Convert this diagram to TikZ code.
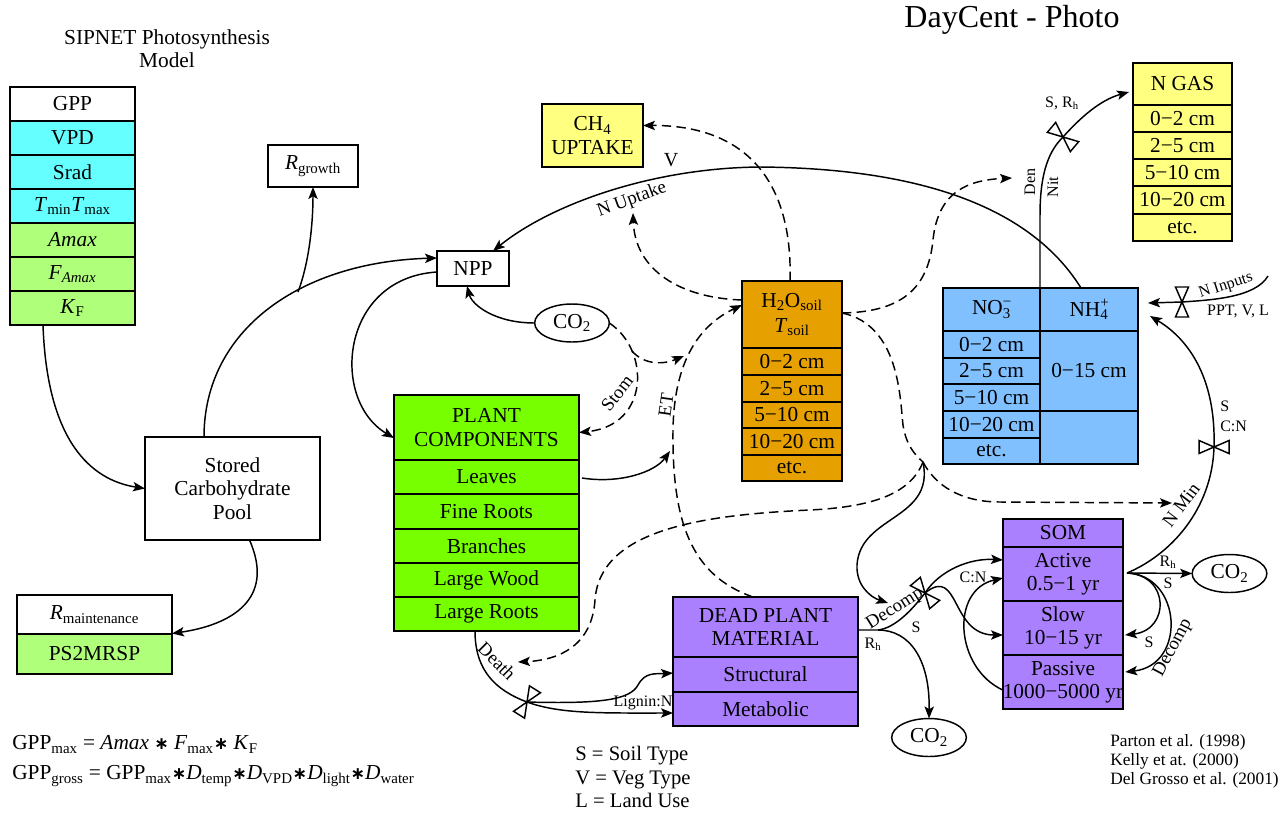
\documentclass[tikz,border=0pt]{standalone}
\usepackage{fontspec}
\setmainfont{Liberation Serif}
\newfontfamily\dejavu{DejaVu Sans}
\usetikzlibrary{arrows.meta,calc,shapes.geometric}
\definecolor{cyanc}{RGB}{102,255,255}
\definecolor{lgrn}{RGB}{176,255,122}
\definecolor{bgrn}{RGB}{119,255,0}
\definecolor{orng}{RGB}{230,160,0}
\definecolor{blu}{RGB}{128,192,255}
\definecolor{yel}{RGB}{255,255,128}
\definecolor{pur}{RGB}{170,128,255}
\tikzset{
 cellbox/.style={draw,line width=1.2pt,rectangle,inner sep=0pt,outer sep=0pt,align=center,font=\fontsize{16}{17.5}\selectfont},
 ell/.style={draw,ellipse,line width=1.1pt,inner sep=0pt,outer sep=0pt,minimum width=56pt,minimum height=28.5pt,font=\fontsize{16}{17.5}\selectfont},
 flow/.style={line width=1.1pt,-{Stealth[length=9pt,width=7pt,inset=2pt]}},
 plain/.style={line width=1.1pt},
 dflow/.style={flow,dash pattern=on 7pt off 4pt},
 dplain/.style={plain,dash pattern=on 7pt off 4pt},
 lab/.style={inner sep=0pt,font=\fontsize{14}{15}\selectfont},
 slab/.style={inner sep=0pt,font=\fontsize{12}{13}\selectfont},
 valveline/.style={line width=1.1pt},
}
\newcommand\cel[7]{\node[cellbox,fill=#6,minimum width={(#4-#2)*0.75pt},minimum height={(#5-#3)*0.75pt}] (#1) at ({(#2+#4)/2},{(#3+#5)/2}) {#7};}
\newcommand\valvedraw[3]{\begin{scope}[shift={(#1,#2)},rotate=#3]\draw[valveline] (0,0)--(15,-6.5)--(15,6.5)--cycle (0,0)--(-15,-6.5)--(-15,6.5)--cycle;\end{scope}}
\newcommand\mul{{\dejavu\bfseries\fontsize{13}{13}\selectfont ∗}}
\begin{document}
\begin{tikzpicture}[x=0.75pt,y=-0.75pt]
\useasboundingbox (0,0) rectangle (1284,814);

% titles
\node[font=\fontsize{24}{26}\selectfont] (title) at (1012,20) {DayCent - Photo};
\node[font=\fontsize{16}{17}\selectfont,align=center] (sipnet) at (167,49) {SIPNET Photosynthesis\\Model};

% SIPNET column
\cel{gpp}{10}{87}{135}{121}{white}{GPP}
\cel{vpd}{10}{121}{135}{155}{cyanc}{VPD}
\cel{srad}{10}{155}{135}{189}{cyanc}{Srad}
\cel{tmm}{10}{189}{135}{223}{cyanc}{\textit{T}\textsubscript{min}\textit{T}\textsubscript{max}}
\cel{amax}{10}{223}{135}{257}{lgrn}{\textit{Amax}}
\cel{famax}{10}{257}{135}{291}{lgrn}{\textit{F}\textsubscript{\textit{Amax}}}
\cel{kf}{10}{291}{135}{325}{lgrn}{\textit{K}\textsubscript{F}}

\cel{rgrowth}{268}{145}{358}{187}{white}{\textit{R}\textsubscript{growth}}
\cel{npp}{437}{251}{509}{286}{white}{NPP}
\node[ell] (co2a) at (572,323) {CO\textsubscript{2}};
\cel{stored}{145}{437}{320}{540}{white}{Stored\\Carbohydrate\\Pool}
\cel{rmaint}{17}{595}{172}{634}{white}{\textit{R}\textsubscript{maintenance}}
\cel{ps2}{17}{634}{172}{674}{lgrn}{PS2MRSP}

% plant components
\cel{pc}{394}{395}{579}{460}{bgrn}{PLANT\\COMPONENTS}
\cel{leaves}{394}{460}{579}{494}{bgrn}{Leaves}
\cel{fine}{394}{494}{579}{529}{bgrn}{Fine Roots}
\cel{branches}{394}{529}{579}{563}{bgrn}{Branches}
\cel{lwood}{394}{563}{579}{597}{bgrn}{Large Wood}
\cel{lroots}{394}{597}{579}{631}{bgrn}{Large Roots}

% dead plant material
\cel{dpm}{673}{597}{858}{657}{pur}{DEAD PLANT\\MATERIAL}
\cel{struct}{673}{657}{858}{692}{pur}{Structural}
\cel{metab}{673}{692}{858}{726}{pur}{Metabolic}

% CH4
\cel{ch4}{542}{104}{643}{167}{yel}{CH\textsubscript{4}\\UPTAKE}

% H2O soil
\cel{h2o}{742}{281}{842}{348}{orng}{H\textsubscript{2}O\textsubscript{soil}\\[1pt]\textit{T}\textsubscript{soil}}
\cel{h2oa}{742}{348}{842}{375}{orng}{0−2 cm}
\cel{h2ob}{742}{375}{842}{402}{orng}{2−5 cm}
\cel{h2oc}{742}{402}{842}{428}{orng}{5−10 cm}
\cel{h2od}{742}{428}{842}{455}{orng}{10−20 cm}
\cel{h2oe}{742}{455}{842}{481}{orng}{etc.}

% NO3 / NH4
\cel{no3}{943}{288}{1040}{331}{blu}{NO\rlap{\textsuperscript{−}}\textsubscript{3}}
\cel{no3a}{943}{331}{1040}{358}{blu}{0−2 cm}
\cel{no3b}{943}{358}{1040}{384}{blu}{2−5 cm}
\cel{no3c}{943}{384}{1040}{411}{blu}{5−10 cm}
\cel{no3d}{943}{411}{1040}{438}{blu}{10−20 cm}
\cel{no3e}{943}{438}{1040}{464}{blu}{etc.}
\cel{nh4}{1040}{288}{1138}{331}{blu}{NH\rlap{\textsuperscript{+}}\textsubscript{4}}
\cel{nh4b}{1040}{331}{1138}{411}{blu}{0−15 cm}
\cel{nh4c}{1040}{411}{1138}{464}{blu}{}

% N GAS
\cel{ngas}{1133}{63}{1232}{105}{yel}{N GAS}
\cel{ngasa}{1133}{105}{1232}{132}{yel}{0−2 cm}
\cel{ngasb}{1133}{132}{1232}{159}{yel}{2−5 cm}
\cel{ngasc}{1133}{159}{1232}{186}{yel}{5−10 cm}
\cel{ngasd}{1133}{186}{1232}{214}{yel}{10−20 cm}
\cel{ngase}{1133}{214}{1232}{241}{yel}{etc.}

% SOM
\cel{som}{1003}{519}{1123}{547}{pur}{SOM}
\cel{active}{1003}{547}{1123}{601}{pur}{Active\\0.5−1 yr}
\cel{slow}{1003}{601}{1123}{655}{pur}{Slow\\10−15 yr}
\cel{passive}{1003}{655}{1123}{709}{pur}{Passive\\1000−5000 yr}

\node[ell] (co2r) at (1229.5,573.5) {CO\textsubscript{2}};
\node[ell] (co2b) at (929,737.5) {CO\textsubscript{2}};

% texts
\node[font=\fontsize{16}{22.5}\selectfont,align=left,anchor=west,inner sep=0pt] (eqs) at (12,761)
 {GPP\textsubscript{max} = \textit{Amax} \mul\ \textit{F}\textsubscript{max}\mul\ \textit{K}\textsubscript{F}\\
  GPP\textsubscript{gross} = GPP\textsubscript{max}\mul\textit{D}\textsubscript{temp}\mul\textit{D}\textsubscript{VPD}\mul\textit{D}\textsubscript{light}\mul\textit{D}\textsubscript{water}};
\node[font=\fontsize{15.5}{17.6}\selectfont,align=left,anchor=west,inner sep=0pt] (legend) at (575,777) {S = Soil Type\\V = Veg Type\\L = Land Use};
\node[font=\fontsize{13}{14.3}\selectfont,align=left,anchor=west,inner sep=0pt] (refs) at (1110,761) {Parton et al. (1998)\\Kelly et at. (2000)\\Del Grosso et al. (2001)};

% coordinates
\coordinate (br) at (298,292);
\coordinate (J) at (923,462);
\coordinate (co2fork) at (632,351);
\coordinate (co2tip) at (684,356);
\coordinate (etTip) at (670,451);
\coordinate (nupTip) at (633,213);
\coordinate (nitTip) at (1012,178);
\coordinate (nminTip) at (1172,503);
\coordinate (deathTip) at (518,662);
\coordinate (decTip) at (888,603);
\coordinate (vng) at (1063,137);
\coordinate (vni) at (1182,302);
\coordinate (nin) at (1268,276);
\coordinate (vnm) at (1214,447);
\coordinate (vdc) at (925,593);
\coordinate (rhj) at (878,630);
\coordinate (vd) at (527,702);

% SIPNET flows
\draw[flow] ($(kf.south)+(-29.5,0)$) .. controls (47,440) and (90,480) .. (stored.west);
\draw[flow] ($(stored.north)+(-28.5,0)$) .. controls (204,330) and (300,262) .. ($(npp.west)+(0,-10.5)$);
\draw[flow] (br) .. controls (310,260) and (313,220) .. (rgrowth.south);
\draw[flow] ($(npp.west)+(0,3.5)$) .. controls (340,278) and (330,400) .. ($(pc.west)+(0,10.5)$);
\draw[flow] (co2a.west) .. controls (495,323) and (472,305) .. ($(npp.south)+(-6,0)$);
\draw[flow] ($(stored.south)+(17,0)$) .. controls (276,600) and (230,625) .. ($(rmaint.east)+(0,19)$);

% N uptake
\draw[flow] ($(nh4.north)+(-8,0)$) .. controls (1020,190) and (880,168) .. (760,167) .. controls (650,168) and (550,205) .. ($(npp.north)+(20,0)$);
\node[lab,font=\fontsize{15}{16}\selectfont] (vlab) at (671,160) {V};
\node[lab,rotate=20] (nup) at (632,200) {N Uptake};

% dashed water / CO2
\draw[dflow] ($(h2o.north)+(-2,0)$) .. controls (793,180) and (745,125) .. ($(ch4.east)+(0,-10)$);
\draw[dflow] ($(h2o.west)+(0,-14.5)$) .. controls (680,298) and (635,270) .. (nupTip);
\draw[dflow] (co2a.east) .. controls (650,350) and (650,425) .. ($(pc.east)+(0,5)$);
\draw[dflow] (co2fork) .. controls (645,366) and (665,364) .. (co2tip);
\node[lab,rotate=52] (stom) at (617,393) {Stom};
\draw[dflow] ($(dpm.north)+(-12.5,0)$) .. controls (690,575) and (672,520) .. (673,430) .. controls (674,360) and (700,325) .. ($(h2o.west)+(0,-9.5)$);
\node[lab,rotate=82] (et) at (666,405) {ET};
\draw[flow] ($(leaves.east)+(3,1)$) .. controls (620,484) and (655,472) .. (etTip);

\draw[dflow] ($(h2o.east)+(0,-1.5)$) .. controls (900,312) and (928,290) .. (933,240) .. controls (938,190) and (970,180) .. (nitTip);
\draw[dplain] ($(h2o.east)+(0,-1.5)$) .. controls (900,325) and (900,400) .. (903,425) .. controls (906,445) and (915,455) .. (J);
\draw[dflow] (J) .. controls (935,485) and (960,502) .. (1000,502) -- (nminTip);
\draw[dflow] (J) .. controls (910,495) and (870,507) .. (810,510) .. controls (700,515) and (600,530) .. (595,600) .. controls (592,645) and (560,660) .. (deathTip);
\draw[flow] (J) .. controls (935,520) and (860,515) .. (857,565) .. controls (856,585) and (870,597) .. (decTip);

% N gas
\draw[flow] (no3.north east) -- (1040,215) .. controls (1040,170) and (1050,150) .. (vng) .. controls (1080,118) and (1100,100) .. ($(ngas.west)+(-4,8)$);
\valvedraw{1063}{137}{140}
\node[slab,rotate=90] (den) at (1030,182) {Den};
\node[slab,rotate=90] (nit) at (1053,187) {Nit};
\node[slab] (srh) at (1062,103) {S, R\textsubscript{h}};

% N inputs
\draw[flow] (nin) .. controls (1255,298) and (1210,300) .. (vni) -- ($(nh4.east)+(10,-6.5)$);
\valvedraw{1182}{302}{90}
\node[slab,rotate=18] (ninl) at (1226,286) {N Inputs};
\node[slab] (ppt) at (1238,311) {PPT, V, L};

% N min
\draw[flow] ($(active.east)+(4,-1)$) .. controls (1170,555) and (1212,510) .. (vnm) .. controls (1216,380) and (1190,340) .. ($(nh4.east)+(12,6.5)$);
\valvedraw{1214}{447}{0}
\node[lab,rotate=53] (nmin) at (1181,505) {N Min};
\node[slab,anchor=west] (sl1) at (1220,406) {S};
\node[slab,anchor=west] (cn1) at (1220,426) {C:N};

% SOM flows
\draw[flow] ($(active.east)+(4,-1)$) -- (co2r.west);
\node[slab] (rh2) at (1168,562) {R\textsubscript{h}};
\node[slab] (s2) at (1168,583) {S};
\draw[flow] ($(active.east)+(4,-1)$) .. controls (1170,575) and (1170,630) .. ($(slow.east)+(2,7)$);
\draw[flow] ($(active.east)+(4,-1)$) .. controls (1182,575) and (1187,665) .. ($(passive.east)+(2,-10)$);
\node[slab] (s3) at (1149,642) {S};
\node[lab,rotate=62] (dec2) at (1173,648) {Decomp};
\draw[flow] ($(passive.west)+(0,8)$) .. controls (955,668) and (950,590) .. ($(active.west)+(0,4)$);

% DPM decomposition
\draw[plain] ($(dpm.east)+(0,3)$) -- (rhj) .. controls (895,628) and (912,610) .. (vdc);
\draw[flow] (vdc) .. controls (940,570) and (970,558) .. ($(active.west)+(0,-14)$);
\draw[flow] (vdc) .. controls (960,565) and (950,635) .. ($(slow.west)+(0,7)$);
\draw[flow] (rhj) .. controls (910,630) and (930,660) .. (co2b.north);
\valvedraw{925}{593}{-50}
\node[lab,rotate=32] (dec1) at (895,609) {Decomp};
\node[slab] (s1) at (916,627) {S};
\node[slab] (rh1) at (873,644) {R\textsubscript{h}};
\node[slab] (cn2) at (973,577) {C:N};

% Death
\draw[plain] ($(lroots.south)+(-11.5,0)$) .. controls (475,670) and (495,690) .. (vd);
\draw[flow] (vd) .. controls (600,704) and (630,700) .. (638,685) .. controls (645,672) and (655,674) .. ($(struct.west)+(0,-1.5)$);
\draw[flow] (vd) .. controls (560,714) and (600,713) .. ($(metab.west)+(0,4)$);
\valvedraw{527}{702}{58}
\node[lab,rotate=-45] (death) at (497,661) {Death};
\node[slab] (lign) at (643,703) {Lignin:N};
\end{tikzpicture}
\end{document}
